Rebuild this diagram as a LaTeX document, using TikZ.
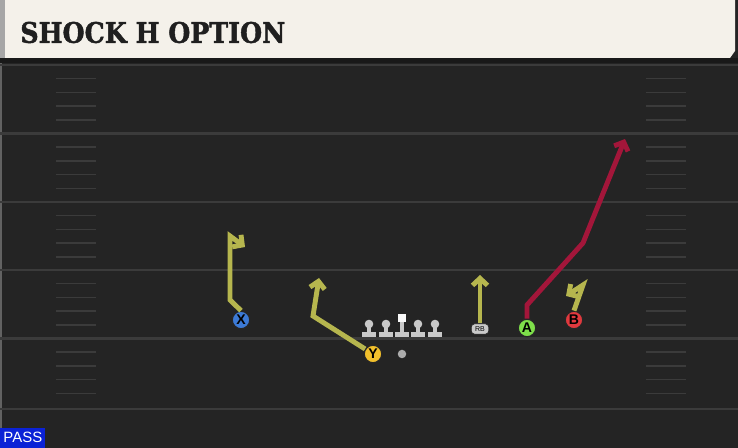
\documentclass[tikz,border=0pt]{standalone}
\usepackage{fontspec}
\usepackage{graphicx}
\setmainfont{Liberation Sans}
\newfontfamily\titlefont{DejaVu Serif}[BoldFeatures={FakeBold=1.6}]
\usetikzlibrary{arrows.meta}
\definecolor{field}{HTML}{242424}
\definecolor{yardline}{HTML}{3B3B3B}
\definecolor{cream}{HTML}{F4F1EA}
\definecolor{routeY}{HTML}{B6B64E}
\definecolor{routeR}{HTML}{A3163A}
\definecolor{xBlue}{HTML}{3C7AD6}
\definecolor{yGold}{HTML}{F2C02C}
\definecolor{aGreen}{HTML}{7EDF4A}
\definecolor{bRed}{HTML}{E0393E}
\definecolor{linemanC}{HTML}{C9C9C9}
\definecolor{passBlue}{HTML}{0B22D6}
\begin{document}
\begin{tikzpicture}
    [x=0.02cm, y=-0.02cm,
    player/.style={circle, draw=black!85, line width=0.7pt, minimum size=0.35cm, inner sep=0pt, font=\fontsize{8}{8}\selectfont\bfseries},
    route/.style={line width=2.8pt, draw=routeY, -{Straight Barb[length=4pt,width=8.5pt]}},
    hotroute/.style={route, draw=routeR},
    lineman/.pic={
        \fill[linemanC] (-2.2,6) rectangle (2.2,13);
        \fill[linemanC] (0,4) circle[radius=4.3];
        \fill[linemanC] (-7,12.5) rectangle (7,17);
    },
    center/.pic={
        \fill[linemanC] (-2.2,2) rectangle (2.2,13);
        \fill[white!95!gray] (-4.3,-6) rectangle (4.3,2.5);
        \fill[linemanC] (-7,12.5) rectangle (7,17);
    }]
    \useasboundingbox (0,0) rectangle (738,448);
    \fill[field] (0,0) rectangle (738,448);
    \fill[yardline!80] (0,60) rectangle (2,448);

    % yard lines and hashes
    \foreach \l in {65,133.5,202,270,338.5,409}
        \draw[yardline, line width=1.2pt] (0,\l) -- (738,\l);
    \foreach \l in {65,133.5,202,270,338.5}
        \foreach \k in {1,...,4} {
            \draw[yardline, line width=0.9pt] (56,\l+\k*13.7) -- (96,\l+\k*13.7);
            \draw[yardline, line width=0.9pt] (646,\l+\k*13.7) -- (686,\l+\k*13.7);
        }

    % header
    \fill[black!90] (0,58) rectangle (738,63);
    \fill[cream] (0,0) -- (735,0) -- (735,51) -- (730,58) -- (0,58) -- cycle;
    \fill[gray!70] (0,0) rectangle (5,58);
    \node[anchor=west, inner sep=0pt, text=black!88] (title) at (20,32.5)
        {\resizebox{5.3cm}{0.42cm}{\titlefont\bfseries SHOCK H OPTION}};

    % formation
    \pic (lt) at (369,320) {lineman};
    \pic (lg) at (386,320) {lineman};
    \pic (c) at (402,320) {center};
    \pic (rg) at (418,320) {lineman};
    \pic (rt) at (435,320) {lineman};
    \node[circle, fill=gray!65, minimum size=0.17cm, inner sep=0pt] (QB) at (402,354) {};
    \node[rounded corners=2pt, draw=black!85, fill=linemanC, minimum width=0.35cm, minimum height=0.21cm, inner sep=0pt, font=\fontsize{4}{4}\selectfont] (RB) at (480,329) {RB};
    \node[player, fill=xBlue] (X) at (241,320) {X};
    \node[player, fill=yGold] (Y) at (373,354) {Y};
    \node[player, fill=aGreen] (A) at (527,328) {A};
    \node[player, fill=bRed] (B) at (574,320) {B};

    \coordinate (x1) at (230,300);
    \coordinate (x2) at (230,236);
    \coordinate (x3) at (245,247);
    \coordinate (y1) at (313,316);
    \coordinate (y2) at (319,278);
    \coordinate (rb1) at (480,275);
    \coordinate (a1) at (527,305);
    \coordinate (a2) at (583,243);
    \coordinate (a3) at (625,139);
    \coordinate (b1) at (583,285);
    \coordinate (b2) at (566,296);

    \draw[route] (X.north) -- (x1) -- (x2) -- (x3);
    \draw[route] (Y) -- (y1) -- (y2);
    \draw[route] (RB.north) -- (rb1);
    \draw[hotroute] (A.north) -- (a1) -- (a2) -- (a3);
    \draw[route] (B.north) -- (b1) -- (b2);

    % play type
    \node[fill=passBlue, text=white, minimum width=0.9cm, minimum height=0.4cm, inner sep=0pt, anchor=south west, font=\fontsize{8.5}{8.5}\selectfont] (pass) at (0,448) {PASS};
\end{tikzpicture}
\end{document}
